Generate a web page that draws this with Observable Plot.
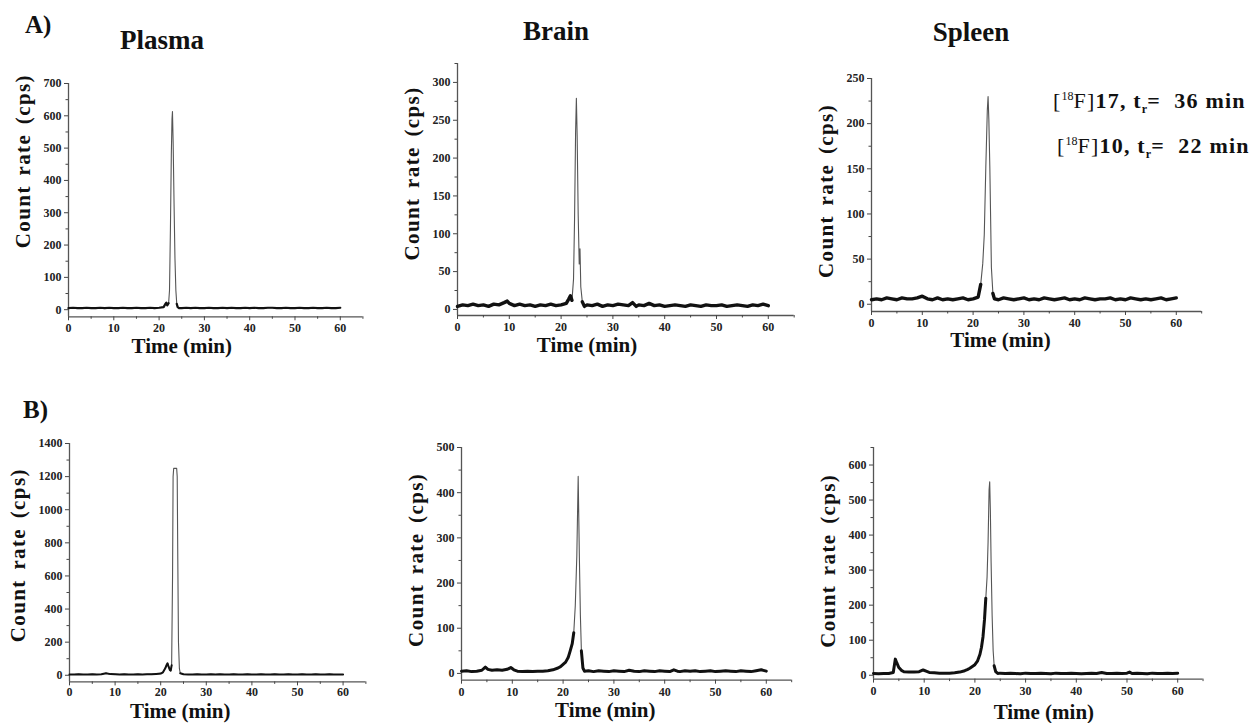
<!DOCTYPE html>
<html><head><meta charset="utf-8">
<script src="https://cdn.jsdelivr.net/npm/d3@7"></script>
<script src="https://cdn.jsdelivr.net/npm/@observablehq/plot@0.6"></script>
<style>
html,body{margin:0;padding:0;background:#fff;}
#wrap{position:relative;width:1256px;height:723px;overflow:hidden;font-family:"Liberation Serif","Times New Roman",serif;color:#111;}
.lbl{position:absolute;white-space:nowrap;font-weight:bold;line-height:1;}
.panel{position:absolute;}
.panel svg{overflow:visible;}
.ann{position:absolute;white-space:nowrap;font-size:22px;line-height:22px;font-weight:bold;letter-spacing:1.2px;}
.ann .n{font-weight:normal;}
.ann .sup{font-size:12px;position:relative;top:-8px;font-weight:normal;letter-spacing:0;}
.ann .sub{font-size:12px;position:relative;top:5px;letter-spacing:0;}
</style></head><body><div id="wrap"></div>
<script>
// ---- data: [time (min), count rate (cps)] ----
const plasmaA = [[0,5],[1,6],[2,5],[3,5],[4,6],[5,5],[6,5],[7,6],[8,5],[9,6],[10,5],[11,5],[12,6],[13,5],[14,5],[15,6],[16,5],[17,5],[18,6],[19,5],[20,6],[21,8],[21.4,18],[21.6,22],[21.8,13],[22.1,20],[22.3,60],[22.5,250],[22.7,480],[22.85,590],[22.95,613],[23.1,520],[23.3,330],[23.5,160],[23.7,60],[23.9,18],[24.1,8],[24.4,5],[25,5],[26,6],[27,5],[28,6],[29,5],[30,5],[31,6],[32,5],[33,5],[34,6],[35,5],[36,6],[37,5],[38,5],[39,6],[40,5],[41,6],[42,5],[43,5],[44,6],[45,6],[46,5],[47,5],[48,6],[49,5],[50,5],[51,6],[52,5],[53,5],[54,6],[55,5],[56,5],[57,6],[58,5],[59,5],[60,6]];
const brainA = [[0,4],[1,6],[2,5],[3,7],[4,5],[5,6],[6,4],[7,7],[8,6],[9,9],[9.6,11],[10,8],[11,5],[12,7],[13,5],[14,6],[15,4],[16,6],[17,5],[18,7],[19,5],[20,6],[21,8],[21.5,14],[21.8,18],[22.1,12],[22.4,40],[22.6,120],[22.8,235],[22.95,279],[23.1,230],[23.3,125],[23.5,60],[23.65,80],[23.8,30],[24.1,10],[24.5,4],[25,6],[26,5],[27,7],[28,4],[29,6],[30,5],[31,7],[32,6],[33,5],[33.8,9],[34.5,4],[35,6],[36,5],[37,8],[38,5],[39,6],[40,4],[41,5],[42,6],[43,5],[44,4],[45,6],[46,5],[47,4],[48,6],[49,5],[50,5],[51,6],[52,4],[53,5],[54,6],[55,5],[56,4],[57,6],[58,5],[59,7],[60,5]];
const spleenA = [[0,5],[1,6],[2,5],[3,7],[4,6],[5,5],[6,7],[7,6],[8,6],[9,7],[10,9],[11,6],[12,5],[13,7],[14,5],[15,6],[16,5],[17,6],[18,7],[19,5],[20,6],[21,8],[21.5,22],[21.9,45],[22.2,77],[22.5,151],[22.8,215],[22.95,230],[23.1,205],[23.3,150],[23.6,41],[23.9,12],[24.2,6],[25,5],[26,7],[27,6],[28,5],[29,6],[30,7],[31,5],[32,6],[33,5],[34,7],[35,6],[36,5],[37,6],[38,7],[39,5],[40,6],[41,5],[42,7],[43,6],[44,5],[45,6],[46,6],[47,7],[48,5],[49,6],[50,5],[51,7],[52,6],[53,5],[54,6],[55,5],[56,6],[57,7],[58,5],[59,6],[60,7]];
const plasmaB = [[0,5],[1,5],[2,6],[3,5],[4,5],[5,6],[6,5],[7,6],[8,12],[9,7],[10,6],[11,5],[12,6],[13,5],[14,5],[15,6],[16,5],[17,6],[18,6],[19,8],[20,10],[20.5,18],[21,42],[21.3,62],[21.5,72],[21.7,55],[22,32],[22.2,28],[22.4,60],[22.6,600],[22.72,1200],[22.85,1250],[23.5,1250],[23.62,1200],[23.75,700],[23.9,200],[24.1,40],[24.3,12],[25,6],[26,5],[27,5],[28,6],[29,5],[30,5],[31,6],[32,5],[33,6],[34,5],[35,5],[36,6],[37,5],[38,5],[39,6],[40,5],[41,5],[42,6],[43,5],[44,5],[45,6],[46,5],[47,5],[48,6],[49,5],[50,5],[51,6],[52,5],[53,5],[54,6],[55,5],[56,5],[57,6],[58,5],[59,5],[60,5]];
const brainB = [[0,5],[1,6],[2,4],[3,5],[4,7],[4.7,14],[5.2,9],[6,7],[7,8],[8,7],[9,9],[9.7,13],[10.3,8],[11,5],[12,4],[13,5],[14,4],[15,5],[16,5],[17,6],[18,8],[19,12],[19.5,15],[20,20],[20.5,25],[21,35],[21.4,50],[21.8,66],[22.1,90],[22.4,150],[22.7,260],[22.97,436],[23.2,260],[23.4,130],[23.6,50],[23.9,12],[24.2,5],[25,6],[26,4],[27,6],[28,5],[29,4],[30,6],[31,5],[32,4],[33,7],[34,5],[35,4],[36,6],[37,5],[38,4],[39,6],[40,5],[41,4],[41.8,8],[42.5,5],[43,4],[44,6],[45,5],[46,6],[47,4],[48,5],[49,6],[50,4],[51,5],[52,6],[53,5],[54,4],[55,6],[56,5],[57,4],[58,6],[59,8],[60,5]];
const spleenB = [[0,5],[1,4],[2,5],[3,5],[3.9,8],[4.3,46],[4.6,35],[5,22],[5.5,14],[6,10],[7,9],[8,9],[9,10],[9.8,15],[10.5,11],[11,8],[12,7],[13,6],[14,6],[15,6],[16,7],[17,9],[18,13],[18.5,16],[19,20],[19.5,25],[20,30],[20.5,40],[21,60],[21.3,80],[21.6,110],[21.9,160],[22.15,220],[22.4,280],[22.6,380],[22.8,530],[22.92,552],[23.05,470],[23.2,320],[23.4,170],[23.6,70],[23.8,27],[24.1,10],[24.5,5],[25,6],[26,5],[27,6],[28,5],[29,4],[30,6],[31,5],[32,5],[33,6],[34,5],[35,4],[36,6],[37,5],[38,5],[39,6],[40,5],[41,4],[42,5],[43,6],[44,5],[45,8],[46,5],[47,5],[48,6],[49,5],[50,6],[50.5,9],[51,5],[52,6],[53,5],[54,4],[55,6],[56,5],[57,5],[58,6],[59,5],[60,6]];

// ---- tick labels ----
const timeTicks = [0,10,20,30,40,50,60];
const timeMinor = [5,15,25,35,45,55,65];
const ticksPlasmaA = [0,100,200,300,400,500,600,700];
const minorPlasmaA = [50,150,250,350,450,550,650];
const ticksBrainA = [0,50,100,150,200,250,300];
const minorBrainA = [25,75,125,175,225,275,325];
const ticksSpleenA = [0,50,100,150,200,250];
const minorSpleenA = [25,75,125,175,225];
const ticksPlasmaB = [0,200,400,600,800,1000,1200,1400];
const minorPlasmaB = [100,300,500,700,900,1100,1300];
const ticksBrainB = [0,100,200,300,400,500];
const minorBrainB = [50,150,250,350,450];
const ticksSpleenB = [0,100,200,300,400,500,600];
const minorSpleenB = [50,150,250,350,450,550,650];

const titles = ["Plasma", "Brain", "Spleen"];
const rowLabels = ["A)", "B)"];
const yLabel = "Count rate (cps)";
const xLabel = "Time (min)";

const wrap = document.getElementById("wrap");

// layout (pixel frame of each panel; pxMin = pixels per minute)
const panels = [
  {data: plasmaA, yDomain: [-22, 700], yMajor: ticksPlasmaA, yMinor: minorPlasmaA, l: 67.7, top: 82.7, bottom: 316, pxMin: 4.53, thick: 30, thickR: 20, sw: 2.2, labDx: -45, labDy: -39, timeC: 25, timeDy: 36.7, tp: 3},
  {data: brainA, yDomain: [-8, 325], yMajor: ticksBrainA, yMinor: minorBrainA, l: 457.3, top: 63, bottom: 315, pxMin: 5.18, thick: 22, thickR: 15, sw: 3.4, labDx: -45.6, labDy: -16, timeC: 25, timeDy: 37, tp: 3},
  {data: spleenA, yDomain: [-8, 250], yMajor: ticksSpleenA, yMinor: minorSpleenA, l: 870.7, top: 77.7, bottom: 310.7, pxMin: 5.08, thick: 24, thickR: 15, sw: 3.4, labDx: -45, labDy: -4, timeC: 25.4, timeDy: 36, tp: 3},
  {data: plasmaB, yDomain: [-40, 1400], yMajor: ticksPlasmaB, yMinor: minorPlasmaB, l: 69, top: 443.3, bottom: 681.7, pxMin: 4.56, thick: 80, thickR: 30, sw: 2, labDx: -51.5, labDy: -7.5, timeC: 24.3, timeDy: 36, tp: 1.5},
  {data: brainB, yDomain: [-15, 500], yMajor: ticksBrainB, yMinor: minorBrainB, l: 461, top: 447.3, bottom: 680, pxMin: 5.08, thick: 90, thickR: 55, sw: 3, labDx: -45, labDy: -4, timeC: 28.3, timeDy: 36.7, tp: 3},
  {data: spleenB, yDomain: [-11, 650], yMajor: ticksSpleenB, yMinor: minorSpleenB, l: 872.7, top: 446.7, bottom: 678.3, pxMin: 5.07, thick: 225, thickR: 30, sw: 3, labDx: -45, labDy: -2.5, timeC: 33.6, timeDy: 40, tp: 3}
];

function draw(p) {
  const ML = 75, MR = 10, MT = 8, MB = 50;
  const fw = 65 * p.pxMin, fh = p.bottom - p.top;
  const width = fw + ML + MR, height = fh + MT + MB;
  const rows = p.data.map(([t, c]) => ({t, c}));
  const peakT = rows.reduce((a, b) => (b.c > a.c ? b : a)).t;
  const thickY = d => ((d.t <= peakT ? d.c <= p.thick : d.c <= p.thickR) ? d.c : NaN);
  const chart = Plot.plot({
    width, height,
    marginLeft: ML, marginRight: MR, marginTop: MT, marginBottom: MB,
    style: {fontFamily: "'Liberation Serif', serif", fontWeight: "bold", fontSize: "12px", color: "#222", background: "transparent", overflow: "visible"},
    x: {domain: [0, 65]},
    y: {domain: p.yDomain},
    marks: [
      Plot.ruleX([0], {stroke: "#555", strokeWidth: 1.3}),
      Plot.ruleY([p.yDomain[0]], {stroke: "#555", strokeWidth: 1.3}),
      Plot.axisX({ticks: timeTicks, tickSize: 4, tickPadding: p.tp, tickFormat: d => String(d), label: null, stroke: "#444"}),
      Plot.axisX({ticks: timeMinor, tickSize: 2.5, tickFormat: () => "", label: null, stroke: "#444"}),
      Plot.axisY({ticks: p.yMajor, tickSize: 4, tickPadding: 3, tickFormat: d => String(d), label: null, stroke: "#444"}),
      Plot.axisY({ticks: p.yMinor, tickSize: 2.5, tickFormat: () => "", label: null, stroke: "#444"}),
      Plot.line(rows, {x: "t", y: "c", stroke: "#555", strokeWidth: 1.1}),
      Plot.line(rows, {x: "t", y: thickY, stroke: "#111", strokeWidth: p.sw}),
      Plot.text([yLabel], {text: d => d, frameAnchor: "left", textAnchor: "middle", rotate: -90, dx: p.labDx, dy: p.labDy, fontSize: 21, fontWeight: "bold", fill: "#111"}),
      Plot.text([xLabel], {text: d => d, frameAnchor: "bottom", textAnchor: "middle", lineAnchor: "bottom", dx: (p.timeC - 32.5) * p.pxMin, dy: p.timeDy, fontSize: 21, fontWeight: "bold", fill: "#111"})
    ]
  });
  // widen the spaced-out y-axis title as in the reference
  chart.querySelectorAll("text").forEach(t => {
    if (t.textContent === yLabel) { t.style.letterSpacing = "1.4px"; t.style.wordSpacing = "3px"; }
  });
  const div = document.createElement("div");
  div.className = "panel";
  div.style.left = (p.l - ML) + "px";
  div.style.top = (p.top - MT) + "px";
  div.appendChild(chart);
  wrap.appendChild(div);
}
panels.forEach(draw);

// headings: text placed by baseline
function label(text, size, x, baseline, center) {
  const d = document.createElement("div");
  d.className = "lbl";
  d.textContent = text;
  d.style.fontSize = size + "px";
  d.style.top = (baseline - 0.8375 * size) + "px";
  d.style.left = x + "px";
  if (center) d.style.transform = "translateX(-50%)";
  wrap.appendChild(d);
}
label(rowLabels[0], 25, 25, 33, false);
label(rowLabels[1], 25, 23, 418, false);
label(titles[0], 27, 162, 50, true);
label(titles[1], 27, 556, 41, true);
label(titles[2], 27, 971, 42, true);

const annotations = [
  {compound: "17", tr: "36", x: 1053, baseline: 108},
  {compound: "10", tr: "22", x: 1057, baseline: 153}
];
annotations.forEach(a => {
  const d = document.createElement("div");
  d.className = "ann";
  d.style.left = a.x + "px";
  d.style.top = (a.baseline - 0.8375 * 22) + "px";
  d.innerHTML = `<span class="n">[</span><span class="sup">18</span><span class="n">F]</span>${a.compound}, t<span class="sub">r</span>=&nbsp; ${a.tr} min`;
  wrap.appendChild(d);
});
</script></body></html>
